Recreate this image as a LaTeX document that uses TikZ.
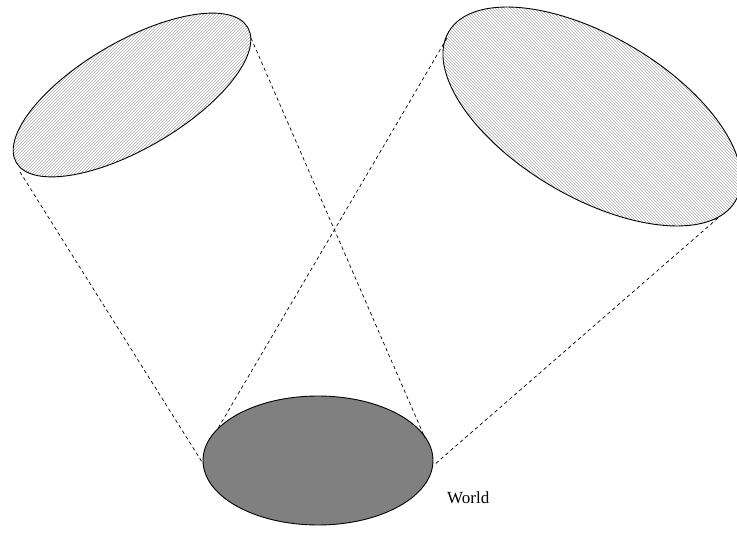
\documentclass[tikz,border=0pt]{standalone}
\usepackage{fontspec}
\setmainfont{Liberation Serif}
\usetikzlibrary{patterns,shapes.geometric}
\tikzset{
  rim/.style={draw=black, line width=0.9pt},
  ray/.style={draw=black, dashed, dash pattern=on 3.5pt off 3pt, line width=0.7pt},
}
\begin{document}
\begin{tikzpicture}[x=1pt,y=1pt]
\useasboundingbox (0,0) rectangle (737,536);
% left view ellipse
\path[rim, pattern=north east lines, pattern color=gray!65] (132,441) ellipse [x radius=134, y radius=53.5, rotate=30.3];
% right view ellipse
\path[rim, pattern=north west lines, pattern color=gray!65] (592,419.5) ellipse [x radius=166.5, y radius=80.5, rotate=-30.6];
% world
\path[rim, fill=gray] (318,75.5) ellipse [x radius=115, y radius=64.5];
\node[anchor=west, font=\fontsize{17}{19}\selectfont, inner sep=0pt] (world) at (447,38) {World};
% tangent points
\coordinate (la) at (20,364);
\coordinate (lb) at (251,498);
\coordinate (ra) at (447,498);
\coordinate (rb) at (718,318);
\coordinate (wa) at (202,74);
\coordinate (wb) at (425,98);
\coordinate (wc) at (217,106);
\coordinate (wd) at (434,71);
\draw[ray] (la) -- (wa);
\draw[ray] (lb) -- (wb);
\draw[ray] (ra) -- (wc);
\draw[ray] (rb) -- (wd);
\end{tikzpicture}
\end{document}
